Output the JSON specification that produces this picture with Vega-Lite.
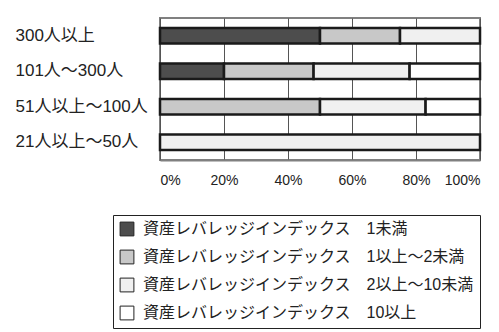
{
  "$schema": "https://vega.github.io/schema/vega-lite/v6.json",
  "width": 320,
  "height": 142,
  "autosize": {"type": "none"},
  "padding": {"left": 160, "top": 18, "right": 19, "bottom": 172},
  "config": {
    "font": "Liberation Sans, Noto Sans CJK JP",
    "view": {"stroke": "#808080", "strokeWidth": 2}
  },
  "data": {
    "values": [
      {"size": "300人以上", "idx": "資産レバレッジインデックス　1未満", "o": 1, "pct": 50},
      {"size": "300人以上", "idx": "資産レバレッジインデックス　1以上～2未満", "o": 2, "pct": 25},
      {"size": "300人以上", "idx": "資産レバレッジインデックス　2以上～10未満", "o": 3, "pct": 25},
      {"size": "101人～300人", "idx": "資産レバレッジインデックス　1未満", "o": 1, "pct": 20},
      {"size": "101人～300人", "idx": "資産レバレッジインデックス　1以上～2未満", "o": 2, "pct": 28},
      {"size": "101人～300人", "idx": "資産レバレッジインデックス　2以上～10未満", "o": 3, "pct": 30},
      {"size": "101人～300人", "idx": "資産レバレッジインデックス　10以上", "o": 4, "pct": 22},
      {"size": "51人以上～100人", "idx": "資産レバレッジインデックス　1以上～2未満", "o": 2, "pct": 50},
      {"size": "51人以上～100人", "idx": "資産レバレッジインデックス　2以上～10未満", "o": 3, "pct": 33},
      {"size": "51人以上～100人", "idx": "資産レバレッジインデックス　10以上", "o": 4, "pct": 17},
      {"size": "21人以上～50人", "idx": "資産レバレッジインデックス　2以上～10未満", "o": 3, "pct": 100}
    ]
  },
  "mark": {"type": "bar", "stroke": "#1a1a1a", "strokeWidth": 2.5},
  "encoding": {
    "y": {
      "field": "size",
      "type": "nominal",
      "sort": ["300人以上", "101人～300人", "51人以上～100人", "21人以上～50人"],
      "title": null,
      "scale": {"paddingInner": 0.56, "paddingOuter": 0.28},
      "axis": {
        "labelAlign": "left",
        "ticks": false,
        "labelPadding": 145,
        "labelFontSize": 17,
        "labelColor": "#222",
        "domain": false,
        "labelLimit": 200
      }
    },
    "x": {
      "field": "pct",
      "type": "quantitative",
      "stack": "normalize",
      "scale": {"domain": [0, 1]},
      "title": null,
      "axis": {
        "format": ".0%",
        "values": [0, 0.2, 0.4, 0.6, 0.8, 1],
        "grid": true,
        "gridColor": "#555",
        "ticks": false,
        "domainColor": "#808080",
        "domainWidth": 2,
        "labelFontSize": 14,
        "labelPadding": 13,
        "labelColor": "#222"
      }
    },
    "color": {
      "field": "idx",
      "type": "nominal",
      "scale": {
        "domain": [
          "資産レバレッジインデックス　1未満",
          "資産レバレッジインデックス　1以上～2未満",
          "資産レバレッジインデックス　2以上～10未満",
          "資産レバレッジインデックス　10以上"
        ],
        "range": ["#4d4d4d", "#c8c8c8", "#f0f0f0", "#ffffff"]
      },
      "legend": {
        "orient": "none",
        "legendX": -47,
        "legendY": 197,
        "title": null,
        "direction": "vertical",
        "strokeColor": "#222",
        "padding": 6,
        "labelFontSize": 16,
        "labelColor": "#222",
        "symbolType": "square",
        "symbolSize": 190,
        "symbolStrokeColor": "#222",
        "symbolStrokeWidth": 1,
        "symbolOpacity": 1,
        "rowPadding": 10,
        "labelOffset": 8,
        "labelLimit": 400,
        "fillColor": "white"
      }
    },
    "order": {"field": "o", "type": "quantitative"}
  }
}
